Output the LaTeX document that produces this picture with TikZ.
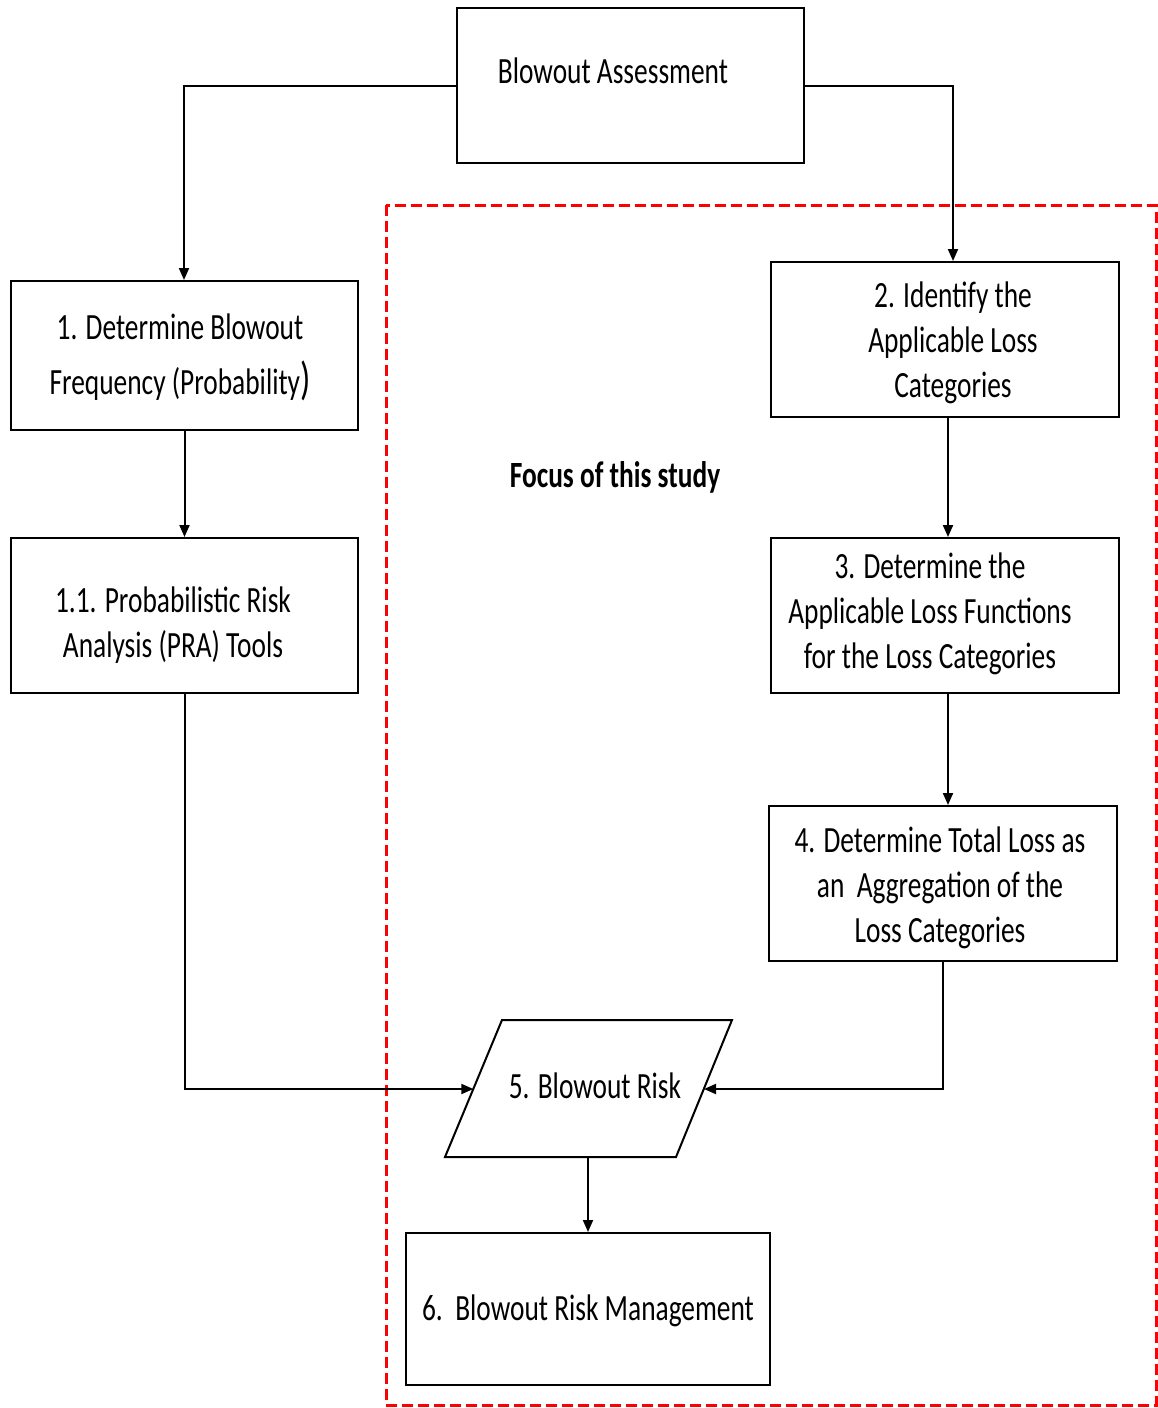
\documentclass[tikz,border=0pt]{standalone}
\usepackage{fontspec}
\setmainfont{Carlito}[FakeStretch=0.74]
\usetikzlibrary{arrows.meta}
\begin{document}
\begin{tikzpicture}[x=1pt,y=-1pt,
  box/.style={draw=black,line width=2pt,rectangle,inner sep=0pt,align=center,
    font=\fontsize{37}{45}\selectfont},
  txt/.style={inner sep=0pt,align=center,font=\fontsize{37}{45}\selectfont},
  conn/.style={line width=2pt,-{Triangle[length=12pt,width=10pt]}},
  focus/.style={draw=red,line width=3pt,dash pattern=on 11pt off 5pt}]
\useasboundingbox[fill=white] (0,0) rectangle (1157,1408);
% focus region
\draw[focus] (386,205) rectangle (1156,1405);
% boxes
\node[box,minimum width=347pt,minimum height=155pt] (top) at (630.5,85.5) {};
\node[txt] (toptxt) at (613,71) {Blowout Assessment};
\node[box,minimum width=347pt,minimum height=149pt] (b1) at (184.5,355.5) {};
\node[txt] (b1t) at (180,357) {1. Determine Blowout\\[10pt]Frequency (Probability{\fontsize{46}{45}\selectfont)}};
\node[box,minimum width=347pt,minimum height=155pt] (b11) at (184.5,615.5) {};
\node[txt] (b11t) at (173,625) {1.1. Probabilistic Risk\\Analysis (PRA) Tools};
\node[box,minimum width=348pt,minimum height=155pt] (b2) at (945,339.5) {};
\node[txt] (b2t) at (953,343) {2. Identify the\\Applicable Loss\\Categories};
\node[box,minimum width=348pt,minimum height=155pt] (b3) at (945,615.5) {};
\node[txt] (b3t) at (930,614) {3. Determine the\\Applicable Loss Functions\\for the Loss Categories};
\node[box,minimum width=348pt,minimum height=155pt] (b4) at (943,883.5) {};
\node[txt] (b4t) at (940,888) {4. Determine Total Loss as\\an\ \ Aggregation of the\\Loss Categories};
\node[box,minimum width=364pt,minimum height=152pt] (b6) at (588,1309) {};
\node[txt] (b6t) at (588,1311) {6.\ \ Blowout Risk Management};
% parallelogram
\coordinate (p5a) at (502,1020);
\coordinate (p5b) at (732,1020);
\coordinate (p5c) at (676,1157);
\coordinate (p5d) at (445,1157);
\draw[line width=2pt,line join=miter] (p5a) -- (p5b) -- (p5c) -- (p5d) -- cycle;
\node[txt] (p5) at (595,1086) {5. Blowout Risk};
\coordinate (p5l) at (473.3,1089);
\coordinate (p5r) at (704,1089);
\coordinate (p5bot) at (588,1157);
% focus label
\node[inner sep=0pt,font=\fontsize{37}{45}\selectfont\bfseries] (focuslbl) at (615,477) {Focus of this study};
% connectors
\draw[conn] (top.west |- 0,86) -| (b1.north -| 184,0);
\draw[conn] (top.east |- 0,86) -| (b2.north -| 953,0);
\draw[conn] (b1.south) -- (b11.north);
\draw[conn] (b11.south) |- (p5l);
\draw[conn] (b2.south -| 948,0) -- (b3.north -| 948,0);
\draw[conn] (b3.south -| 948,0) -- (b4.north -| 948,0);
\draw[conn] (b4.south -| 943,0) |- (p5r);
\draw[conn] (p5bot) -- (b6.north);
\end{tikzpicture}
\end{document}
